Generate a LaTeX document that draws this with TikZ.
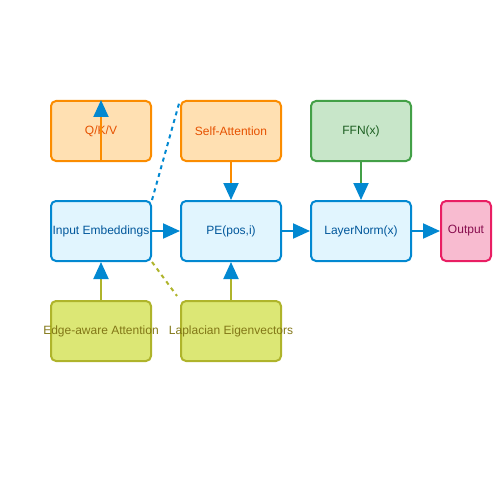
\documentclass[tikz,border=0pt]{standalone}
\usepackage{fontspec}
\setmainfont{Liberation Sans}
\usetikzlibrary{arrows.meta,calc}
\definecolor{bluel}{HTML}{0288D1}
\definecolor{bluef}{HTML}{E1F5FE}
\definecolor{bluet}{HTML}{01579B}
\definecolor{orl}{HTML}{FB8C00}
\definecolor{orf}{HTML}{FFE0B2}
\definecolor{ort}{HTML}{E65100}
\definecolor{grl}{HTML}{43A047}
\definecolor{grf}{HTML}{C8E6C9}
\definecolor{grt}{HTML}{1B5E20}
\definecolor{pkl}{HTML}{E91E63}
\definecolor{pkf}{HTML}{F8BBD0}
\definecolor{pkt}{HTML}{880E4F}
\definecolor{oll}{HTML}{AFB42B}
\definecolor{olf}{HTML}{DCE775}
\definecolor{olt}{HTML}{827717}
\newcommand{\zw}[1]{\makebox[0pt]{#1}}
\tikzset{
  box/.style={draw, line width=2pt, rounded corners=5pt, minimum width=100pt, minimum height=60pt, inner sep=0pt, font=\fontsize{12pt}{14pt}\selectfont, anchor=north west},
  bluebox/.style={box, draw=bluel, fill=bluef, text=bluet},
  orbox/.style={box, draw=orl, fill=orf, text=ort},
  grbox/.style={box, draw=grl, fill=grf, text=grt},
  pkbox/.style={box, draw=pkl, fill=pkf, text=pkt, minimum width=50pt},
  olbox/.style={box, draw=oll, fill=olf, text=olt},
  conn/.style={line width=2pt, -{Triangle[length=17pt,width=15pt,color=bluel]}},
}
\begin{document}
\begin{tikzpicture}[x=1pt,y=-1pt]
\useasboundingbox (0,0) rectangle (500,500);
\node[orbox] (qkv) at (50,100) {\zw{Q/K/V}};
\node[orbox] (sa) at (180,100) {\zw{Self-Attention}};
\node[grbox] (ffn) at (310,100) {\zw{FFN(x)}};
\node[bluebox] (ie) at (50,200) {\zw{Input Embeddings}};
\node[bluebox] (pe) at (180,200) {\zw{PE(pos,i)}};
\node[bluebox] (ln) at (310,200) {\zw{LayerNorm(x)}};
\node[pkbox] (out) at (440,200) {\zw{Output}};
\node[olbox] (ea) at (50,300) {\zw{Edge-aware Attention}};
\node[olbox] (lap) at (180,300) {\zw{Laplacian Eigenvectors}};
\coordinate (lapend) at ($(lap.north west)+(-3,-4)$);
\draw[conn, orl] (qkv.south) -- (qkv.north);
\draw[conn, orl] (sa.south) -- (pe.north);
\draw[conn, grl] (ffn.south) -- (ln.north);
\draw[conn, bluel] (ie.east) -- (pe.west);
\draw[conn, bluel] (pe.east) -- (ln.west);
\draw[conn, bluel] (ln.east) -- (out.west);
\draw[conn, oll] (ea.north) -- (ie.south);
\draw[conn, oll] (lap.north) -- (pe.south);
\draw[bluel, line width=2pt, dash pattern=on 4pt off 4pt] (ie.north east) -- (sa.north west);
\draw[oll, line width=2pt, dash pattern=on 4pt off 4pt] (ie.south east) -- (lapend);
\end{tikzpicture}
\end{document}
